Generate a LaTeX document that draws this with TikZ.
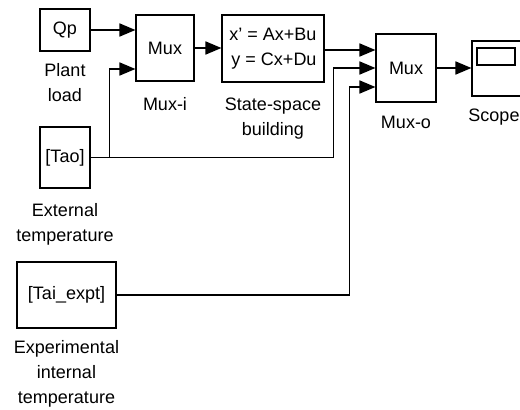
\documentclass[tikz,border=0pt]{standalone}
\usepackage{fontspec}
\setmainfont{Liberation Sans}
\usetikzlibrary{arrows.meta,positioning}
\tikzset{
  >={Triangle[length=16pt,width=13pt]},
  box/.style={draw,line width=1.1pt,inner sep=0pt,align=center,fill=white},
  lab/.style={inner sep=0pt,align=center},
  arr/.style={->,line width=1.7pt},
}

\begin{document}
\begin{tikzpicture}[x=1pt,y=-1pt,every node/.style={font=\fontsize{18}{25}\selectfont}]
\useasboundingbox (0,0) rectangle (520,410);
\clip (0,0) rectangle (520,410);
% blocks
\node[box,minimum width=50pt,minimum height=42pt] (qp) at (65,30) {Qp};
\node[box,minimum width=58pt,minimum height=66pt] (muxi) at (165,48) {Mux};
\node[box,minimum width=102pt,minimum height=67pt,align=right] (ss) at (273,48.5) {x' = Ax+Bu\\y = Cx+Du};
\node[box,minimum width=60pt,minimum height=68pt] (muxo) at (406,68) {Mux};
\node[box,minimum width=50pt,minimum height=55pt] (scope) at (497,68.5) {};
\node[box,minimum width=38pt,minimum height=17pt,anchor=north west] (scr) at ([xshift=5pt,yshift=-7pt]scope.north west) {};
\node[box,minimum width=50pt,minimum height=61pt] (tao) at (65,157.5) {[Tao]};
\node[box,minimum width=99pt,minimum height=66pt] (tai) at (66.5,295) {[Tai\_expt]};
% labels
\node[lab,below=12pt of qp] {Plant\\load};
\node[lab,below=16pt of muxi] {Mux-i};
\node[lab,below=15pt of ss] {State-space\\building};
\node[lab,below=13pt of muxo] {Mux-o};
\node[lab,below=12pt of scope,xshift=-3pt] {Scope};
\node[lab,below=15pt of tao] {External\\temperature};
\node[lab,below=12pt of tai] {Experimental\\internal\\temperature};
% ports
\coordinate (ii1) at ([yshift=18pt]muxi.west);
\coordinate (ii2) at ([yshift=-21pt]muxi.west);
\coordinate (mi1) at ([yshift=18pt]muxo.west);
\coordinate (mi2) at (muxo.west);
\coordinate (mi3) at ([yshift=-19pt]muxo.west);
\coordinate (tj) at ([xshift=19pt]tao.east);
% wires
\draw[arr] (qp.east) -- (ii1);
\draw[arr] (muxi.east) -- (muxi.east -| ss.west);
\draw[arr] (ss.east |- mi1) -- (mi1);
\draw[arr] (tao.east) -| ([xshift=-42pt]mi2) -- (mi2);
\draw[arr] (tj) |- (ii2);
\draw[arr] (tai.east) -| ([xshift=-26pt]mi3) -- (mi3);
\draw[arr] (muxo.east) -- (muxo.east -| scope.west);
\end{tikzpicture}
\end{document}
